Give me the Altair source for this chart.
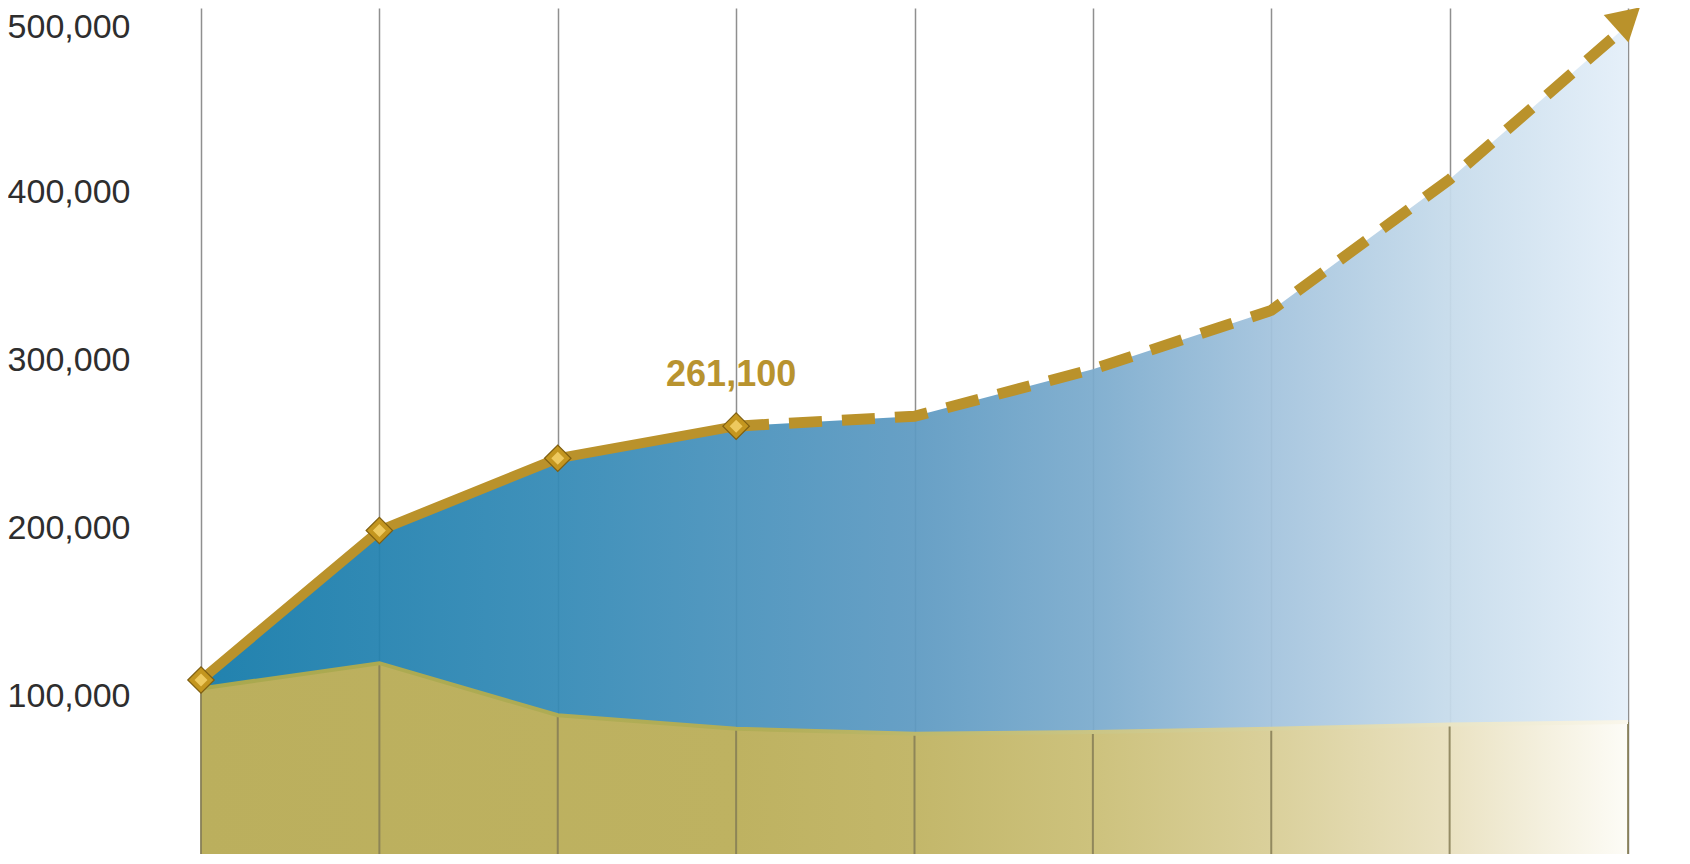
import altair as alt
import pandas as pd

# ---- data ----
steps = [0, 1, 2, 3, 4, 5, 6, 7, 8]
top_values = [110000, 199000, 242000, 261100, 267000, 295000, 330000, 408000, 500000]
base_values = [105000, 120000, 89000, 81000, 78000, 79000, 81000, 83500, 85000]
arrow_step = [8]
arrow_value = [504000]
labelled_step = 3
y_ticks = [100000, 200000, 300000, 400000, 500000]

df = pd.DataFrame({"i": steps, "top": top_values, "base": base_values})
df_arrow = pd.DataFrame({"i": arrow_step, "top": arrow_value})

GOLD = "#BA922B"

x_scale = alt.Scale(domain=[0, 8], nice=False, zero=False)
y_scale = alt.Scale(domain=[6430, 510000], nice=False, zero=False, clamp=True)

X = alt.X(
    "i:Q",
    scale=x_scale,
    axis=alt.Axis(values=steps, grid=True, labels=False, ticks=False, domain=False,
                  title=None, gridColor="#8f8f8f", gridWidth=1.5),
)


def Y(field):
    return alt.Y(
        f"{field}:Q",
        scale=y_scale,
        axis=alt.Axis(values=y_ticks, format=",.0f", labelFontSize=34, labelColor="#2e2e2e",
                      labelFont="Liberation Sans", labelPadding=71, tickSize=0, ticks=False,
                      labelOffset={"condition": {"test": "datum.value >= 500000", "value": 3},
                                   "value": 0},
                      domain=False, grid=False, title=None),
    )


blue_grad = alt.Gradient(
    gradient="linear", x1=0, x2=1, y1=0, y2=0,
    stops=[
        alt.GradientStop(color="#137AA9", offset=0),
        alt.GradientStop(color="#348AB6", offset=0.25),
        alt.GradientStop(color="#5E9AC2", offset=0.5),
        alt.GradientStop(color="#7BABCD", offset=0.625),
        alt.GradientStop(color="#A3C3DD", offset=0.75),
        alt.GradientStop(color="#C6DBEB", offset=0.875),
        alt.GradientStop(color="#E4EFF9", offset=1),
    ],
)

olive_grad = alt.Gradient(
    gradient="linear", x1=0, x2=1, y1=0, y2=0,
    stops=[
        alt.GradientStop(color="#BBAF5D", offset=0),
        alt.GradientStop(color="#BEB261", offset=0.375),
        alt.GradientStop(color="#C3B76A", offset=0.5),
        alt.GradientStop(color="#CDC27D", offset=0.625),
        alt.GradientStop(color="#DAD09B", offset=0.75),
        alt.GradientStop(color="#EAE2C2", offset=0.875),
        alt.GradientStop(color="#FDFCF7", offset=1),
    ],
)

edge_grad = alt.Gradient(
    gradient="linear", x1=0, x2=1, y1=0, y2=0,
    stops=[
        alt.GradientStop(color="#A9A84E", offset=0),
        alt.GradientStop(color="#B2AE58", offset=0.4),
        alt.GradientStop(color="#D8D29E", offset=0.75),
        alt.GradientStop(color="#FAF7EC", offset=1),
    ],
)

base = alt.Chart(df).encode(x=X)

blue_area = base.mark_area(color=blue_grad, opacity=0.94, interpolate="linear").encode(y=Y("top"))
olive_area = base.mark_area(color=olive_grad, opacity=1, interpolate="linear").encode(y=Y("base"))
olive_rules = base.mark_rule(color="#857D55", strokeWidth=2, opacity=0.85).encode(
    y=Y("base"), y2=alt.Y2Datum(0)
)
olive_edge = base.mark_line(color=edge_grad, strokeWidth=4).encode(y=Y("base"))

solid_line = base.transform_filter(alt.datum.i <= labelled_step).mark_line(
    color=GOLD, strokeWidth=10, strokeCap="butt"
).encode(y=Y("top"))

dashed_line = base.transform_filter(alt.datum.i >= labelled_step).mark_line(
    color=GOLD, strokeWidth=11, strokeDash=[33, 20], strokeCap="butt"
).encode(y=Y("top"))

diamonds = base.transform_filter(alt.datum.i <= labelled_step).mark_point(
    shape="diamond", filled=True, size=700, color="#C4961F", stroke="#7F5F10",
    strokeWidth=1.2, opacity=1
).encode(y=Y("top"))

diamond_glow = base.transform_filter(alt.datum.i <= labelled_step).mark_point(
    shape="diamond", filled=True, size=170, color="#F0CB62", opacity=0.95
).encode(y=Y("top"))

arrow = alt.Chart(df_arrow).mark_point(
    shape="triangle-up", filled=True, size=1370, angle=48, color=GOLD, opacity=1
).encode(x=X, y=Y("top"))

label = base.transform_filter(alt.datum.i == labelled_step).mark_text(
    font="Liberation Sans", fontSize=36, fontWeight="bold", color="#B8932F",
    align="center", baseline="middle", dx=-5, dy=-51
).encode(y=Y("top"), text=alt.Text("top:Q", format=","))

chart = alt.layer(
    blue_area, olive_area, olive_rules, olive_edge, solid_line, dashed_line,
    diamonds, diamond_glow, arrow, label
).properties(
    width=1427,
    height=846,
    autosize=alt.AutoSizeParams(type="none"),
    padding={"left": 193, "top": 0, "right": 40, "bottom": 0},
    background="white",
).configure_view(stroke=None)

chart.save("out.html", embed_options={"renderer": "svg", "actions": False})
